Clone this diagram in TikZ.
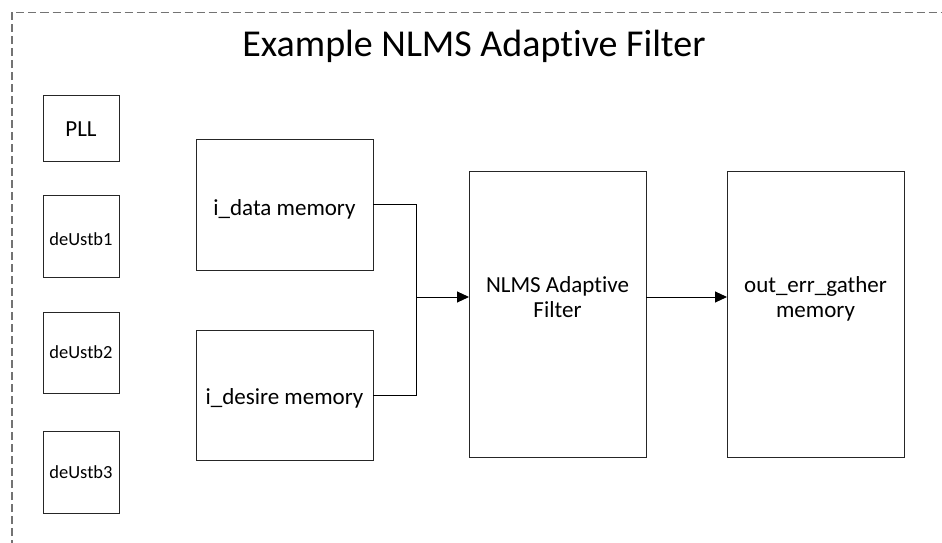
\documentclass[tikz,border=0pt]{standalone}
\usepackage{fontspec}
\setmainfont{Carlito}[Ligatures=NoCommon]
\usetikzlibrary{arrows.meta}
\begin{document}
\begin{tikzpicture}[x=1pt,y=-1pt,
  box/.style={draw=black!85, line width=1pt, inner sep=0pt, outer sep=0pt},
  bigtxt/.style={anchor=base, inner sep=0pt, font=\fontsize{23}{25}\selectfont, align=center},
  smalltxt/.style={anchor=base, inner sep=0pt, font=\fontsize{18.5}{22}\selectfont},
  titletxt/.style={anchor=base, inner sep=0pt, font=\fontsize{38}{44}\selectfont},
  wire/.style={draw=black, line width=1pt},
  arr/.style={wire, -{Triangle[length=12pt,width=11pt]}},
  frame/.style={draw=black!55, line width=1.2pt, dash pattern=on 8pt off 4pt}
]
\useasboundingbox (0,0) rectangle (942,543);
\clip (0,0) rectangle (942,543);
\fill[white] (0,0) rectangle (942,543);
\coordinate (fb) at (12,560);
\coordinate (fc) at (12,12.5);
\coordinate (fr) at (960,12.5);
\draw[frame] (fb) -- (fc) -- (fr);

\node[titletxt] (title) at (474,57) {Example NLMS Adaptive Filter};

\node[box, minimum width=76pt, minimum height=66pt] (pll) at (81,128) {};
\node[box, minimum width=76pt, minimum height=82pt] (ds1) at (81,236) {};
\node[box, minimum width=76pt, minimum height=81pt] (ds2) at (81,352.5) {};
\node[box, minimum width=76pt, minimum height=82pt] (ds3) at (81,472) {};
\node[box, minimum width=177pt, minimum height=131pt] (idata) at (284.5,204.5) {};
\node[box, minimum width=177pt, minimum height=130pt] (idesire) at (284.5,395) {};
\node[box, minimum width=177pt, minimum height=286pt] (nlms) at (557.5,314) {};
\node[box, minimum width=177pt, minimum height=286pt] (outm) at (815.5,314) {};

\node[bigtxt] (tpll) at (81,136.5) {PLL};
\node[smalltxt] (tds1) at (81,245) {deUstb1};
\node[smalltxt] (tds2) at (81,358) {deUstb2};
\node[smalltxt] (tds3) at (81,478) {deUstb3};
\node[bigtxt] (tidata) at (284.5,215) {i\_data memory};
\node[bigtxt] (tidesire) at (284.5,404) {i\_desire memory};
\node[bigtxt] (tnlms) at (557.5,317) {NLMS Adaptive\\Filter};
\node[bigtxt] (tout) at (815.5,317) {out\_err\_gather\\memory};

\coordinate (j) at (416,297);
\draw[wire] (idata.east) -| (j);
\draw[wire] (idesire.east) -| (j);
\draw[arr] (j) -- (j -| nlms.west);
\draw[arr] (nlms.east |- j) -- (outm.west |- j);
\end{tikzpicture}
\end{document}
